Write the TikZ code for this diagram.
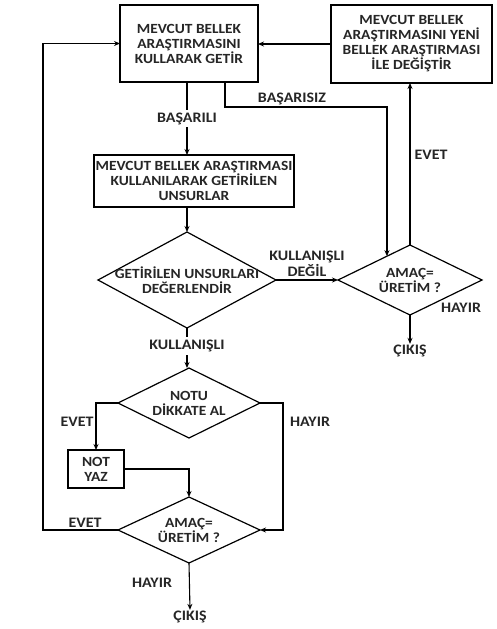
\documentclass[tikz,border=0pt]{standalone}
\usepackage{fontspec}
\setmainfont{Carlito}[FakeStretch=1.1]
\usetikzlibrary{shapes.geometric,arrows.meta,calc}
\begin{document}
\begin{tikzpicture}[x=1pt,y=-1pt,
  txt/.style={font=\bfseries\fontsize{14}{15}\selectfont, text=black!85, align=center, inner sep=0pt},
  boxn/.style={txt, draw, line width=1.4pt, rectangle, outer sep=0pt},
  dia/.style={draw, line width=1.2pt, diamond, outer sep=0pt, inner sep=0pt},
  lbl/.style={font=\bfseries\fontsize{14.5}{14.5}\selectfont, text=black!85, align=center, inner sep=1pt},
  line/.style={line width=1.1pt},
  arr/.style={line, -{Stealth[length=6pt,width=5pt]}}]
\useasboundingbox (0,0) rectangle (496,629);
\fill[white] (0,0) rectangle (496,629);
% boxes
\node[boxn, minimum width=138, minimum height=77] (A) at (189,43.5) {MEVCUT BELLEK\\ARAŞTIRMASINI\\KULLARAK GETİR};
\node[boxn, minimum width=161, minimum height=78] (B) at (411.5,44) {MEVCUT BELLEK\\ARAŞTIRMASINI YENİ\\BELLEK ARAŞTIRMASI\\İLE DEĞİŞTİR};
\node[boxn, minimum width=200, minimum height=52] (C) at (194,181) {MEVCUT BELLEK ARAŞTIRMASI\\KULLANILARAK GETİRİLEN\\UNSURLAR};
\node[boxn, minimum width=56, minimum height=38] (NY) at (96,469) {NOT\\YAZ};
% diamonds
\node[dia, minimum width=178, minimum height=96] (D1) at (187,280) {};
\node[txt] (t1) at (D1) {GETİRİLEN UNSURLARI\\DEĞERLENDİR};
\node[dia, minimum width=144, minimum height=70] (D2) at (410,280) {};
\node[txt] (t2) at (D2) {AMAÇ=\\ÜRETİM ?};
\node[dia, minimum width=142, minimum height=70] (D3) at (189,403) {};
\node[txt] (t3) at (D3) {NOTU\\DİKKATE AL};
\node[dia, minimum width=142, minimum height=66] (D4) at (189,530) {};
\node[txt] (t4) at (D4) {AMAÇ=\\ÜRETİM ?};
% exits
\node[lbl] (X1) at (410,351) {ÇIKIŞ};
\node[lbl] (X2) at (190,617) {ÇIKIŞ};
% connectors
\draw[arr] (B.west) -- (A.east |- B.west);
\draw[arr] (D4.west) -- ++(-75,0) coordinate (L) |- (A.west);
\node[lbl, above] (ev1) at (85,529) {EVET};
\draw[arr] (D1.north |- A.south) -- node[lbl, fill=white, pos=0.5, inner ysep=3pt] (bs) {BAŞARILI} (D1.north |- C.north);
\draw[arr] ([xshift=36]A.south) -- ++(0,25) coordinate (K) -| ($(D2.north)!0.32!(D2.west)$);
\node[lbl] (bz) at (292,99) {BAŞARISIZ};
\draw[arr] (D2.north) -- (D2.north |- B.south);
\node[lbl] (ev2) at (431,155) {EVET};
\draw[arr] (D1.north |- C.south) -- (D1.north);
\draw[arr] (D1.east) -- node[lbl, above=2pt] (kd) {KULLANIŞLI\\DEĞİL} (D2.west);
\draw[arr] (D2.south) -- (X1.north);
\node[lbl] (h1) at (461,308) {HAYIR};
\draw[arr] (D1.south) -- node[lbl, fill=white, inner ysep=3pt, pos=0.45] (ku) {KULLANIŞLI} (D1.south |- D3.north);
\draw[arr] (D3.west) -| (NY.north);
\node[lbl] (ev3) at (77,422) {EVET};
\draw[arr] (NY.east) -| (D4.north);
\draw[arr] (D3.east) -- ++(23,0) |- (D4.east);
\node[lbl] (h2) at (310,422) {HAYIR};
\draw[arr] (D4.south) -- (X2.north);
\node[lbl] (h3) at (152,583) {HAYIR};
\end{tikzpicture}
\end{document}
